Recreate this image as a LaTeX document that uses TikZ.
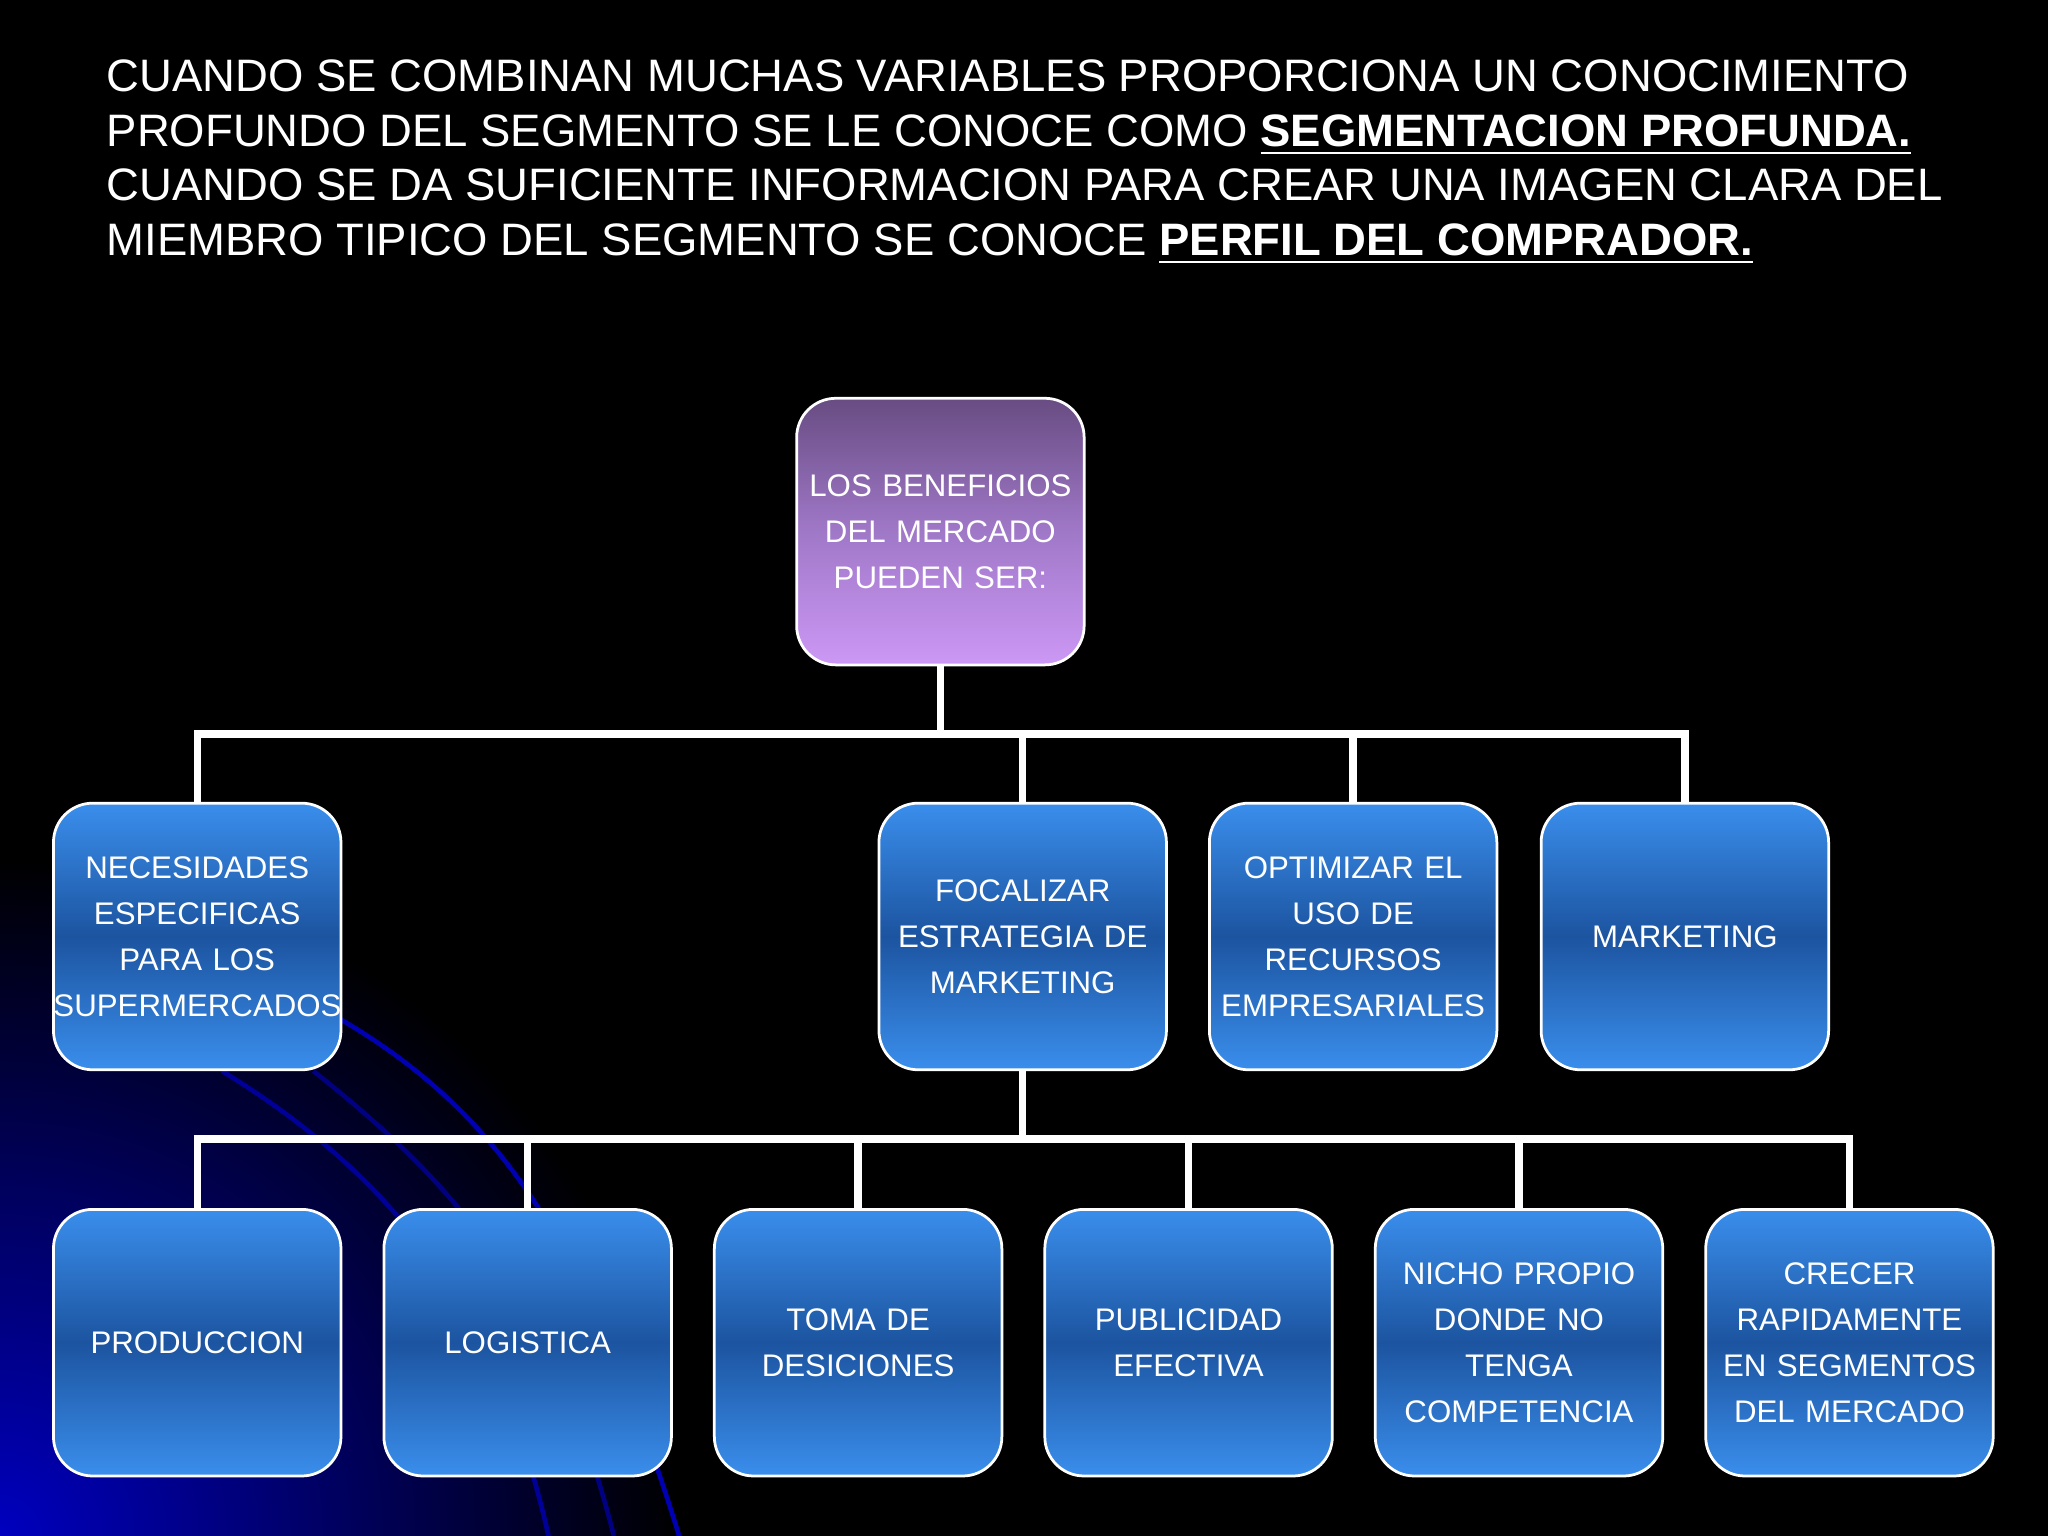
\documentclass[tikz,border=0pt]{standalone}
\usepackage{fontspec}
\setmainfont{Liberation Sans}
\definecolor{blt}{RGB}{58,142,236}
\definecolor{bmd}{RGB}{28,84,160}
\definecolor{ptop}{RGB}{104,76,130}
\definecolor{pmid}{RGB}{160,120,200}
\definecolor{pbot}{RGB}{204,152,245}
\begin{document}
\begin{tikzpicture}[x=0.01cm,y=-0.01cm,
  bx/.style={draw=white,line width=0.6pt,rounded corners=0.3cm,minimum width=2.14cm,minimum height=2.04cm,
    top color=blt,bottom color=blt,middle color=bmd,
    text=white,font=\fontsize{6.8}{10}\selectfont,align=center,text width=2.2cm,inner sep=0pt},
  pbx/.style={bx,top color=ptop,bottom color=pbot,middle color=pmid},
  ln/.style={draw=white,line width=1.6pt}]
\fill[black] (0,0) rectangle (1568,1176);
\begin{scope}
\clip (0,0) rectangle (1568,1176);
\shade[inner color=blue!75!black,outer color=black] (0,1176) circle (520);
\draw[blue!60!black,line width=1pt] (170,820) .. controls (300,900) and (380,1000) .. (420,1176);
\draw[blue!50!black,line width=1pt] (240,820) .. controls (340,900) and (420,980) .. (470,1176);
\draw[blue!70!black,line width=1pt] (260,780) .. controls (380,850) and (450,950) .. (520,1176);
\end{scope}
\node[anchor=north west,text=white,align=left,font=\fontsize{9.9}{11.9}\selectfont,inner sep=0pt] (hdr) at (81,45)
{CUANDO SE COMBINAN MUCHAS VARIABLES PROPORCIONA UN CONOCIMIENTO\\
PROFUNDO DEL SEGMENTO SE LE CONOCE COMO \textbf{\underline{SEGMENTACION PROFUNDA.}}\\
CUANDO SE DA SUFICIENTE INFORMACION PARA CREAR UNA IMAGEN CLARA DEL\\
MIEMBRO TIPICO DEL SEGMENTO SE CONOCE \textbf{\underline{PERFIL DEL COMPRADOR.}}};
\node[pbx] (top) at (720,407) {LOS BENEFICIOS\\DEL MERCADO\\PUEDEN SER:};
\node[bx] (a) at (151,717) {NECESIDADES\\ESPECIFICAS\\PARA LOS\\SUPERMERCADOS};
\node[bx] (b) at (783,717) {FOCALIZAR\\ESTRATEGIA DE\\MARKETING};
\node[bx] (c) at (1036,717) {OPTIMIZAR EL\\USO DE\\RECURSOS\\EMPRESARIALES};
\node[bx] (d) at (1290,717) {MARKETING};
\node[bx] (e) at (151,1028) {PRODUCCION};
\node[bx] (f) at (404,1028) {LOGISTICA};
\node[bx] (g) at (657,1028) {TOMA DE\\DESICIONES};
\node[bx] (h) at (910,1028) {PUBLICIDAD\\EFECTIVA};
\node[bx] (i) at (1163,1028) {NICHO PROPIO\\DONDE NO\\TENGA\\COMPETENCIA};
\node[bx] (j) at (1416,1028) {CRECER\\RAPIDAMENTE\\EN SEGMENTOS\\DEL MERCADO};
\coordinate (y1) at (0,562);
\coordinate (y2) at (0,872);
\draw[ln] (top.south) -- (top.south |- y1);
\draw[ln] (a.north) -- (a.north |- y1) -- (d.north |- y1) -- (d.north);
\foreach \n in {b,c} \draw[ln] (\n.north) -- (\n.north |- y1);
\draw[ln] (b.south) -- (b.south |- y2);
\draw[ln] (e.north) -- (e.north |- y2) -- (j.north |- y2) -- (j.north);
\foreach \n in {f,g,h,i} \draw[ln] (\n.north) -- (\n.north |- y2);
\end{tikzpicture}
\end{document}
